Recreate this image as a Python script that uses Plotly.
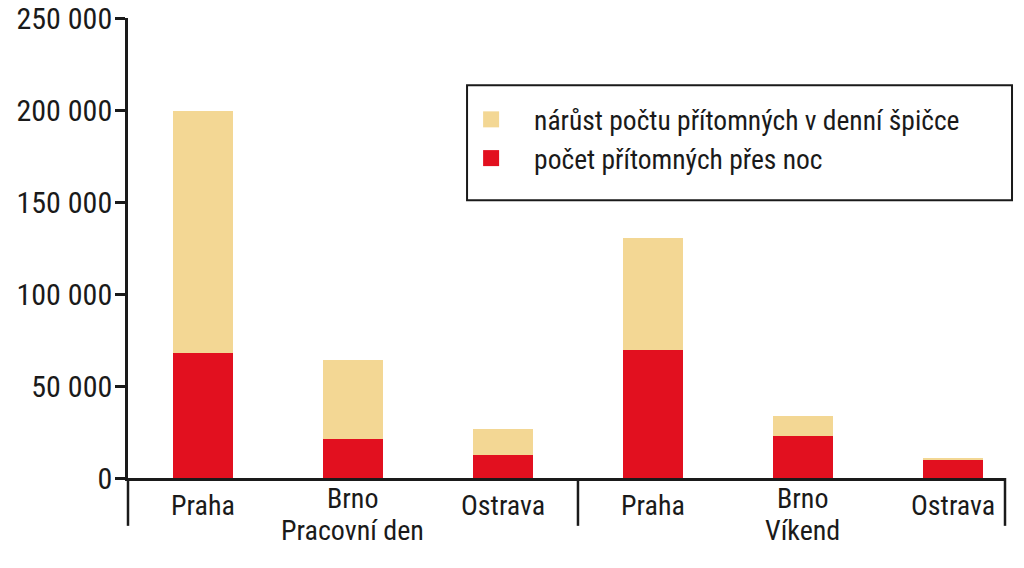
import plotly.graph_objects as go

# data
positions = [0, 1, 2, 3, 4, 5]
tick_labels = ["Praha", "Brno<br>Pracovní den", "Ostrava", "Praha", "Brno<br>Víkend", "Ostrava"]
noc = [68000, 21300, 12600, 69700, 23100, 9900]
narust = [131300, 43100, 13800, 61000, 10500, 1100]
series_names = ["počet přítomných přes noc", "nárůst počtu přítomných v denní špičce"]
y_ticks = [0, 50000, 100000, 150000, 200000, 250000]
y_tick_text = ["0", "50 000", "100 000", "150 000", "200 000", "250 000"]

RED = "#E2101F"
YEL = "#F3D794"
INK = "#1a1a1a"
FONT = "Roboto Condensed, Liberation Sans Narrow, DejaVu Sans Condensed, sans-serif"

x_lo, x_hi = -0.5, 5.347
group_split = 2.5

fig = go.Figure()
fig.add_trace(go.Bar(x=positions, y=noc, marker=dict(color=RED, line=dict(width=0)),
                     width=0.4, showlegend=False, name=series_names[0]))
fig.add_trace(go.Bar(x=positions, y=narust, marker=dict(color=YEL, line=dict(width=0)),
                     width=0.4, showlegend=False, name=series_names[1]))
# legend proxies (larger square symbols)
fig.add_trace(go.Scatter(x=[None], y=[None], mode="markers", name=series_names[1],
                         legendgroup="a",
                         marker=dict(symbol="square", size=22, color=YEL)))
fig.add_trace(go.Scatter(x=[None], y=[None], mode="markers", name=series_names[0],
                         legendgroup="b",
                         marker=dict(symbol="square", size=22, color=RED)))

def px(v):
    return (v - x_lo) / (x_hi - x_lo)

below = -0.104
line_style = dict(color=INK, width=2.5)
shapes = [
    dict(type="line", xref="paper", yref="paper", x0=0, x1=0, y0=below, y1=0, line=line_style),
    dict(type="line", xref="paper", yref="paper", x0=px(group_split), x1=px(group_split),
         y0=below, y1=0, line=line_style),
    dict(type="line", xref="paper", yref="paper", x0=1, x1=1, y0=below, y1=0, line=line_style),
    # legend frame
    dict(type="rect", xref="paper", yref="paper", x0=0.3866, x1=1.008, y0=0.604, y1=0.854,
         line=dict(color=INK, width=2), fillcolor="rgba(0,0,0,0)"),
]

# category labels as annotations for precise placement
annotations = []
for p, lab in zip(positions, tick_labels):
    lines = lab.split("<br>")
    if len(lines) == 1:
        annotations.append(dict(x=p, y=0, xref="x", yref="paper", text=lines[0],
                                showarrow=False, yanchor="middle", yshift=-27,
                                font=dict(family=FONT, size=28, color=INK)))
    else:
        annotations.append(dict(x=p, y=0, xref="x", yref="paper", text=lines[0],
                                showarrow=False, yanchor="middle", yshift=-20,
                                font=dict(family=FONT, size=28, color=INK)))
        annotations.append(dict(x=p, y=0, xref="x", yref="paper", text=lines[1],
                                showarrow=False, yanchor="middle", yshift=-52,
                                font=dict(family=FONT, size=28, color=INK)))

fig.update_layout(
    width=1024, height=568,
    margin=dict(l=128, r=19, t=18, b=90),
    paper_bgcolor="white", plot_bgcolor="white",
    barmode="stack",
    font=dict(family=FONT, size=30, color=INK),
    shapes=shapes,
    annotations=annotations,
    legend=dict(x=0.365, y=0.737, xanchor="left", yanchor="middle",
                borderwidth=0, bgcolor="rgba(0,0,0,0)", traceorder="normal",
                font=dict(family=FONT, size=27.5, color=INK),
                itemwidth=76, tracegroupgap=6),
    xaxis=dict(range=[x_lo, x_hi], tickvals=positions, ticktext=[""] * len(positions),
               showline=True, linecolor=INK, linewidth=2.5, ticks="",
               showgrid=False, zeroline=False, automargin=False),
    yaxis=dict(range=[0, 250000], tickvals=y_ticks, ticktext=y_tick_text,
               showline=True, linecolor=INK, linewidth=2.5,
               ticks="outside", ticklen=10, tickwidth=2.5, tickcolor=INK,
               showgrid=False, zeroline=False, ticklabelstandoff=-3, automargin=False),
)

fig.write_html("out.html")
